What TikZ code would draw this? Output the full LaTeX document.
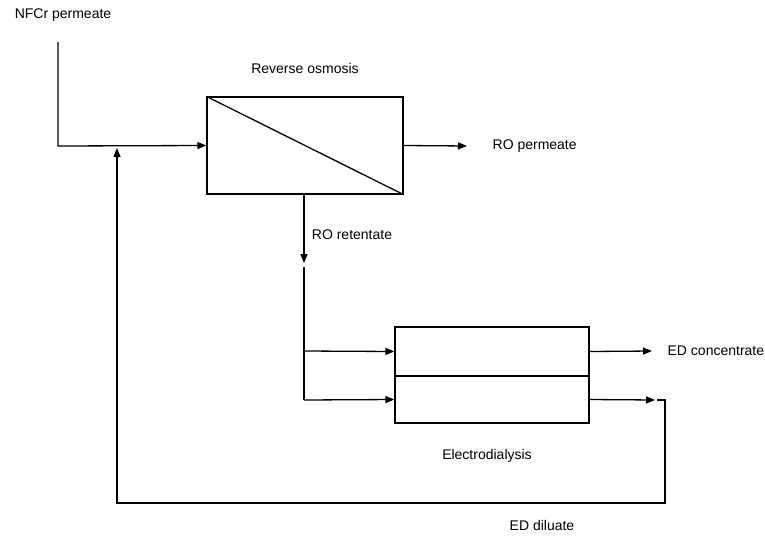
\documentclass[tikz,border=0pt]{standalone}
\usepackage{fontspec}
\setmainfont{Liberation Sans}
\usetikzlibrary{arrows.meta}
\begin{document}
\begin{tikzpicture}[x=1pt,y=-1pt,
  line width=1.3pt,
  flow/.style={-{Triangle[length=9pt,width=7pt]}},
  unit/.style={draw,line width=1.3pt,inner sep=0pt},
  lbl/.style={font=\fontsize{14}{16}\selectfont,inner sep=0pt}]
\useasboundingbox (0,0) rectangle (765,538);
% units
\node[unit,minimum width=196pt,minimum height=97pt] (ro) at (305,145.5) {};
\draw (ro.north west) -- (ro.south east);
\node[unit,minimum width=194pt,minimum height=49pt] (edt) at (492,351.5) {};
\node[unit,minimum width=194pt,minimum height=47pt] (edb) at (492,399.5) {};
% labels
\node[lbl] (nfcr) at (63,15) {NFCr permeate};
\node[lbl] (rolab) at (305,68) {Reverse osmosis};
\node[lbl,anchor=west] (roperm) at (492,146) {RO permeate};
\node[lbl] (roret) at (352,235) {RO retentate};
\node[lbl,anchor=west] (edconc) at (667,351) {ED concentrate};
\node[lbl] (edlab) at (487,456) {Electrodialysis};
\node[lbl] (eddil) at (542,525) {ED diluate};
% coordinates
\coordinate (feedtop) at (58,42);
\coordinate (feedcorner) at (58,146);
\coordinate (ropermend) at (467,146);
\coordinate (retA) at (304,194);
\coordinate (retB) at (304,263);
\coordinate (retC) at (304,267);
\coordinate (retD) at (304,400);
\coordinate (retM) at (304,351);
\coordinate (concend) at (652,351);
\coordinate (dilend) at (655,400);
\coordinate (dilA) at (657,400);
\coordinate (dilB) at (665,400);
\coordinate (dilC) at (665,503);
\coordinate (dilD) at (117,503);
\coordinate (dilE) at (117,148);
% connectors
\draw[flow] (feedtop) -- (feedcorner) -- (ro.west);
\draw[flow] (ro.east) -- (ropermend);
\draw[flow] (retA) -- (retB);
\draw (retC) -- (retD);
\draw[flow] (retM) -- (edt.west);
\draw[flow] (retD) -- (edb.west);
\draw[flow] (edt.east) -- (concend);
\draw[flow] (edb.east) -- (dilend);
\draw[flow] (dilA) -- (dilB) -- (dilC) -- (dilD) -- (dilE);
\end{tikzpicture}
\end{document}
